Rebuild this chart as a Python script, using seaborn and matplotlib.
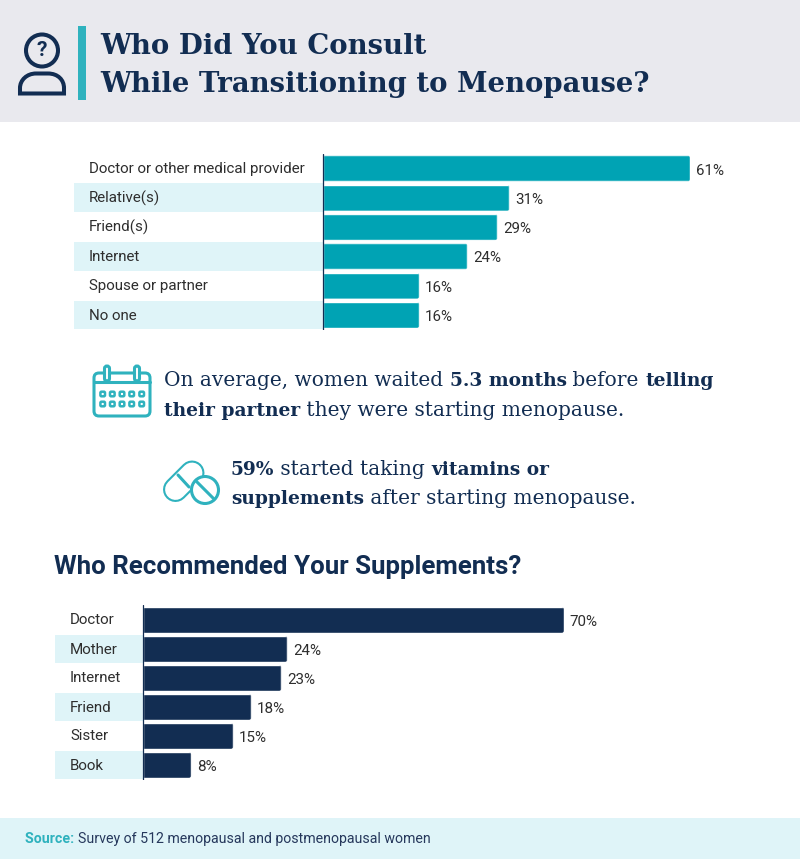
#!/usr/bin/env python3
import matplotlib
matplotlib.use('Agg')
import matplotlib.pyplot as plt
import pandas as pd
import seaborn as sns
from matplotlib.patches import Circle, FancyBboxPatch, PathPatch, Rectangle
from matplotlib.path import Path
from matplotlib.transforms import IdentityTransform, ScaledTranslation

consult_labels = ['Doctor or other medical provider', 'Relative(s)', 'Friend(s)', 'Internet', 'Spouse or partner', 'No one']
consult_values = [61, 31, 29, 24, 16, 16]
supp_labels = ['Doctor', 'Mother', 'Internet', 'Friend', 'Sister', 'Book']
supp_values = [70, 24, 23, 18, 15, 8]

title_lines = ['Who Did You Consult', 'While Transitioning to Menopause?']
subtitle = 'Who Recommended Your Supplements?'
source_head = 'Source:'
source_text = 'Survey of 512 menopausal and postmenopausal women'

NAVY = '#122D52'
TEAL = '#00A3B4'
ICON = '#2FB2BE'
PALE = '#DFF4F8'
GREY = '#E9E9EE'
LABEL = '#2E2E2E'
SERIF = 'DejaVu Serif'

sns.set_theme(style='white')
plt.rcParams['font.family'] = ['Roboto', 'DejaVu Sans']

W, H = 800, 859
fig = plt.figure(figsize=(W / 100, H / 100), dpi=100, facecolor='white')

# pixel canvas for the furniture behind the charts
bg = fig.add_axes([0, 0, 1, 1])
bg.set_xlim(0, W)
bg.set_ylim(H, 0)
bg.axis('off')


def runs(x, y, parts, size=14.5, bold_size=13.4):
    # regular and bold pieces side by side on one baseline
    r = fig.canvas.get_renderer()
    for txt, weight in parts:
        fs = bold_size if weight == 'bold' else size
        t = bg.text(x, y, txt, fontsize=fs, fontweight=weight, family=SERIF, color=NAVY, va='baseline', ha='left')
        x += t.get_window_extent(r).width


bg.add_patch(Rectangle((0, 0), W, 122, color=GREY, lw=0))
bg.add_patch(Rectangle((78, 26), 8, 74, color=ICON, lw=0))
bg.add_patch(Rectangle((0, 818), W, 41, color=PALE, lw=0))

for i, line in enumerate(title_lines):
    bg.text(100, 54.5 + 37.5 * i, line, fontsize=19.8, fontweight='bold', family=SERIF, color=NAVY, va='baseline')

# person with question mark
bg.add_patch(Circle((42, 50.5), 16, fill=False, ec=NAVY, lw=2.9))
bg.text(42, 51, '?', fontsize=15, fontweight='bold', color=NAVY, ha='center', va='center')
body = Path([(20, 93.5), (20, 88), (20, 80), (27, 73.5), (36, 73.5), (48, 73.5), (58, 73.5), (64, 80), (64, 88), (64, 93.5), (20, 93.5)],
            [Path.MOVETO, Path.LINETO, Path.CURVE4, Path.CURVE4, Path.CURVE4, Path.LINETO, Path.CURVE4, Path.CURVE4, Path.CURVE4, Path.LINETO, Path.CLOSEPOLY])
bg.add_patch(PathPatch(body, fill=False, ec=NAVY, lw=2.9, joinstyle='miter'))

# calendar
bg.add_patch(FancyBboxPatch((94, 373), 56, 43, boxstyle='round,pad=0,rounding_size=5', fill=False, ec=ICON, lw=2.2))
bg.plot([94, 150], [382, 382], color=ICON, lw=2.2)
for cx in [107, 137]:
    bg.add_patch(FancyBboxPatch((cx - 2.5, 366), 5, 15, boxstyle='round,pad=0,rounding_size=2.5', fc='white', ec=ICON, lw=2.2, zorder=3))
for cy in [394, 404]:
    for cx in [102.7, 112.3, 122, 131.7, 141.7]:
        bg.add_patch(FancyBboxPatch((cx - 2.3, cy - 2.3), 4.6, 4.6, boxstyle='round,pad=0,rounding_size=1.2', fill=False, ec=ICON, lw=1.8))

# pills
bg.plot([175.5, 192], [489.5, 473], color=ICON, lw=18, solid_capstyle='round')
bg.plot([175.5, 192], [489.5, 473], color='white', lw=15, solid_capstyle='round')
bg.plot([178, 189], [475, 487], color=ICON, lw=2.2)
bg.add_patch(Circle((205, 490), 13.5, fc='white', ec=ICON, lw=2.2, zorder=3))
bg.plot([196, 214], [481, 499], color=ICON, lw=2.2, zorder=4)

runs(164, 386.5, [('On average, women waited ', 'normal'), ('5.3 months', 'bold'), (' before ', 'normal'), ('telling', 'bold')])
runs(164, 415.5, [('their partner', 'bold'), (' they were starting menopause.', 'normal')])
runs(231, 475, [('59%', 'bold'), (' started taking ', 'normal'), ('vitamins or', 'bold')])
runs(231, 503.5, [('supplements', 'bold'), (' after starting menopause.', 'normal')])

bg.text(54, 574, subtitle, fontsize=18.6, fontweight='bold', color=NAVY, va='baseline')

r = fig.canvas.get_renderer()
t = bg.text(25, 843, source_head + ' ', fontsize=10.2, fontweight='bold', color=ICON, va='baseline')
bg.text(25 + t.get_window_extent(r).width, 843, source_text, fontsize=10.2, color='#26385C', va='baseline')


def bar_panel(labels, values, color, left, zero, top, bottom, first, pitch, scale):
    # axes in pixels: spans from the stripe edge to the right of the figure
    ax = fig.add_axes([left / W, 1 - bottom / H, (W - left) / W, (bottom - top) / H])
    ax.patch.set_alpha(0)
    df = pd.DataFrame({'label': labels, 'value': values})
    sns.barplot(data=df, y='label', x='value', color=color, saturation=1, width=26 / pitch, ax=ax, zorder=3)
    ax.set_xlim((left - zero) / scale, (W - zero) / scale)
    ax.set_ylim((bottom - first) / pitch, (top - first) / pitch)
    ax.set_axisbelow(False)
    bars = list(ax.containers[0])
    for i in range(1, len(labels), 2):
        ax.barh(i, -(left - zero) / scale, left=(left - zero) / scale, height=28.6 / pitch, color=PALE, lw=0, zorder=1)
    ax.axvline(0, color=NAVY, lw=0.9, zorder=4)
    for lab in ax.bar_label(ax.containers[0], fmt='%d%%', padding=4, fontsize=10.9, color=LABEL):
        lab.xyann = (4, -1.5)
    ax.set_xlabel('')
    ax.set_ylabel('')
    ax.set_xticks([])
    ax.tick_params(axis='y', length=0, pad=-10.8, labelsize=10.9, labelcolor=LABEL)
    shift = ScaledTranslation(0, 1 / 100, fig.dpi_scale_trans)
    for lab in ax.get_yticklabels():
        lab.set_ha('left')
        lab.set_transform(lab.get_transform() + shift)
    sns.despine(ax=ax, left=True, bottom=True)
    # round the right-hand corners of each bar
    for bar in bars:
        box = bar.get_window_extent(fig.canvas.get_renderer())
        clip = FancyBboxPatch((box.x0 - 8, box.y0), box.width + 8, box.height,
                              boxstyle='round,pad=0,rounding_size=2.5', transform=IdentityTransform())
        bar.set_clip_path(clip)
    return ax


bar_panel(consult_labels, consult_values, TEAL, 74, 323, 154, 330, 168.5, 29.3, 6.016)
bar_panel(supp_labels, supp_values, NAVY, 55, 143, 605, 780, 620, 29, 6.014)

fig.savefig('out.png', dpi=100, facecolor='white')
